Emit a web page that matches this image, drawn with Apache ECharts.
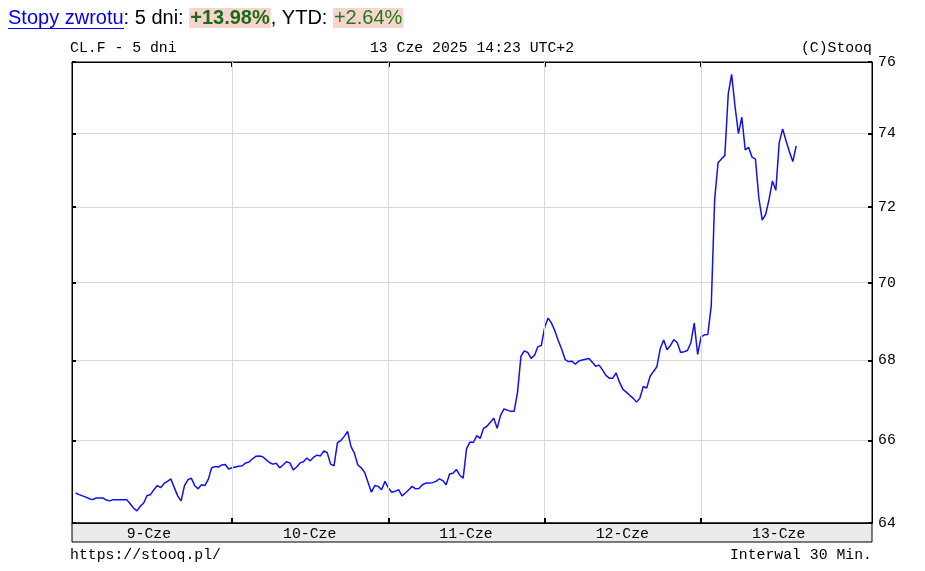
<!DOCTYPE html>
<html>
<head>
<meta charset="utf-8">
<script src="https://cdn.jsdelivr.net/npm/echarts@6/dist/echarts.min.js"></script>
<style>html,body{margin:0;padding:0;background:#fff;}#c{width:925px;height:571px;}</style>
</head>
<body>
<div id="c"></div>
<script>
// Day labels (categories)
var days = ['9-Cze', '10-Cze', '11-Cze', '12-Cze', '13-Cze'];
// Y axis tick labels
var yTicks = [64, 66, 68, 70, 72, 74, 76];
// 30-min closes per day (46 bars per trading day)
var day1 = [64.72,64.68,64.65,64.62,64.58,64.56,64.60,64.60,64.60,64.55,64.53,64.56,64.56,64.56,64.56,64.56,64.46,64.36,64.29,64.40,64.48,64.66,64.68,64.80,64.90,64.85,64.95,65.00,65.06,64.85,64.65,64.53,64.90,65.04,65.08,64.90,64.82,64.92,64.90,65.05,65.33,65.36,65.35,65.40,65.41,65.30];
var day2 = [65.33,65.35,65.37,65.38,65.45,65.47,65.55,65.61,65.62,65.60,65.53,65.46,65.42,65.44,65.33,65.40,65.48,65.45,65.28,65.35,65.45,65.48,65.57,65.50,65.59,65.64,65.62,65.74,65.70,65.42,65.38,65.94,66.00,66.10,66.22,65.85,65.69,65.40,65.33,65.22,64.98,64.74,64.90,64.88,64.80,65.00];
var day3 = [64.84,64.74,64.76,64.80,64.65,64.72,64.80,64.88,64.82,64.83,64.92,64.96,64.96,64.97,65.00,65.06,65.02,64.92,65.18,65.20,65.29,65.15,65.08,65.80,65.96,65.95,66.12,66.05,66.30,66.35,66.45,66.55,66.30,66.62,66.78,66.75,66.72,66.72,67.20,68.10,68.24,68.20,68.05,68.13,68.35,68.38];
var day4 = [68.85,69.08,68.95,68.75,68.50,68.28,68.02,67.97,67.98,67.90,67.98,68.01,68.03,68.05,67.95,67.85,67.88,67.76,67.62,67.55,67.55,67.68,67.45,67.27,67.20,67.12,67.05,66.95,67.05,67.34,67.30,67.60,67.72,67.84,68.30,68.52,68.27,68.38,68.53,68.45,68.20,68.22,68.25,68.45,68.95,68.15];
var day5 = [68.60,68.65,68.66,69.40,72.20,73.20,73.30,73.40,75.10,75.65,74.75,74.00,74.45,73.55,73.62,73.35,73.30,72.25,71.65,71.80,72.20,72.70,72.45,73.75,74.13,73.80,73.50,73.23,73.66];

var BARS = 46;
var allDays = [day1, day2, day3, day4, day5];
var seriesData = [];
allDays.forEach(function (d, k) {
  d.forEach(function (v, j) { seriesData.push([k * BARS + j, Math.log(v)]); });
});
var boundaries = [1, 2, 3, 4].map(function (k) { return k * BARS; });
var labelPos = days.map(function (d, k) { return k * BARS + 15; });
var yLog = yTicks.map(function (v) { return Math.log(v); });
var MONO = '"Liberation Mono", "DejaVu Sans Mono", monospace';
var SANS = '"Liberation Sans", Arial, sans-serif';
var FS = 14.8;
var monoText = { fontFamily: MONO, fontSize: FS, fontWeight: 'normal', color: '#000' };

var chart = echarts.init(document.getElementById('c'), null, { renderer: 'canvas' });
chart.setOption({
  animation: false,
  backgroundColor: '#fff',
  title: [
    {
      left: 8, top: 7, padding: 0,
      text: '{a|Stopy zwrotu}{b|: 5 dni: }{c|+13.98%}{b|, YTD: }{d|+2.64%}',
      textStyle: {
        fontFamily: SANS, fontSize: 20, fontWeight: 'normal',
        rich: {
          a: { color: '#0000ee', fontSize: 20, fontFamily: SANS, fontWeight: 'normal', lineHeight: 22 },
          b: { color: '#000', fontSize: 20, fontFamily: SANS, fontWeight: 'normal', lineHeight: 22 },
          c: { color: '#1a6a1a', fontWeight: 'bold', fontSize: 20, fontFamily: SANS, backgroundColor: '#f8d4cc', padding: [0, 1, 0, 1], lineHeight: 22 },
          d: { color: '#1f7a1f', fontWeight: 'normal', fontSize: 20, fontFamily: SANS, backgroundColor: '#f8d4cc', padding: [0, 1, 0, 1], lineHeight: 22 }
        }
      }
    },
    { left: 70, top: 41, padding: 0, text: 'CL.F - 5 dni', textStyle: monoText },
    { left: 472, top: 41, padding: 0, textAlign: 'center', text: '13 Cze 2025 14:23 UTC+2', textStyle: monoText },
    { right: 53, top: 41, padding: 0, text: '(C)Stooq', textStyle: monoText },
    { left: 70, top: 548, padding: 0, text: 'https://stooq.pl/', textStyle: monoText },
    { right: 53, top: 548, padding: 0, text: 'Interwal 30 Min.', textStyle: monoText }
  ],
  graphic: [
    { type: 'line', shape: { x1: 8, y1: 28.5, x2: 124, y2: 28.5 }, style: { stroke: '#0000ee', lineWidth: 1 } }
  ],
  grid: [
    { left: 72, right: 53, top: 62, bottom: 48, show: true, borderColor: '#000', borderWidth: 1, backgroundColor: '#fff', containLabel: false },
    { left: 72, right: 53, top: 523, height: 19, show: true, borderColor: '#000', borderWidth: 1, backgroundColor: '#ebebeb', containLabel: false }
  ],
  xAxis: [
    {
      gridIndex: 0, type: 'value', position: 'bottom', min: -1.1, max: 234.3,
      axisLine: { show: true, onZero: false, lineStyle: { color: '#000', width: 1 } },
      axisTick: { show: true, inside: true, length: 5, customValues: boundaries, lineStyle: { color: '#000', width: 2 } },
      splitLine: { show: true, customValues: boundaries, lineStyle: { color: '#d8d8d8', width: 1 } },
      axisLabel: {
        show: true, customValues: labelPos, margin: 4, align: 'left',
        fontFamily: MONO, fontSize: FS, color: '#000',
        formatter: function (v) { return days[Math.round((v - 15) / BARS)]; }
      },
      z: 5
    },
    {
      gridIndex: 0, type: 'value', position: 'top', min: -1.1, max: 234.3,
      axisLine: { show: true, onZero: false, lineStyle: { color: '#000', width: 1 } },
      axisTick: { show: true, inside: true, length: 5, customValues: boundaries, lineStyle: { color: '#000', width: 2 } },
      splitLine: { show: false }, axisLabel: { show: false }
    },
    { gridIndex: 1, type: 'value', min: 0, max: 1, show: false }
  ],
  yAxis: [
    {
      gridIndex: 0, type: 'value', position: 'right', min: Math.log(64), max: Math.log(76),
      axisLine: { show: true, onZero: false, lineStyle: { color: '#000', width: 1 } },
      axisTick: { show: true, inside: true, length: 4, customValues: yLog, lineStyle: { color: '#000', width: 2 } },
      splitLine: { show: true, customValues: yLog, lineStyle: { color: '#d8d8d8', width: 1 } },
      axisLabel: {
        show: true, customValues: yLog, margin: 6,
        fontFamily: MONO, fontSize: FS, color: '#000',
        formatter: function (v) { return String(Math.round(Math.exp(v))); }
      }
    },
    {
      gridIndex: 0, type: 'value', position: 'left', min: Math.log(64), max: Math.log(76),
      axisLine: { show: true, onZero: false, lineStyle: { color: '#000', width: 1 } },
      axisTick: { show: true, inside: true, length: 4, customValues: yLog, lineStyle: { color: '#000', width: 2 } },
      splitLine: { show: false }, axisLabel: { show: false }
    },
    { gridIndex: 1, type: 'value', min: 0, max: 1, show: false }
  ],
  series: [
    {
      type: 'line', xAxisIndex: 0, yAxisIndex: 0, data: seriesData,
      showSymbol: false, symbol: 'none', smooth: false,
      lineStyle: { color: '#1010f0', width: 1.5 },
      z: 3
    }
  ]
});
</script>
</body>
</html>
